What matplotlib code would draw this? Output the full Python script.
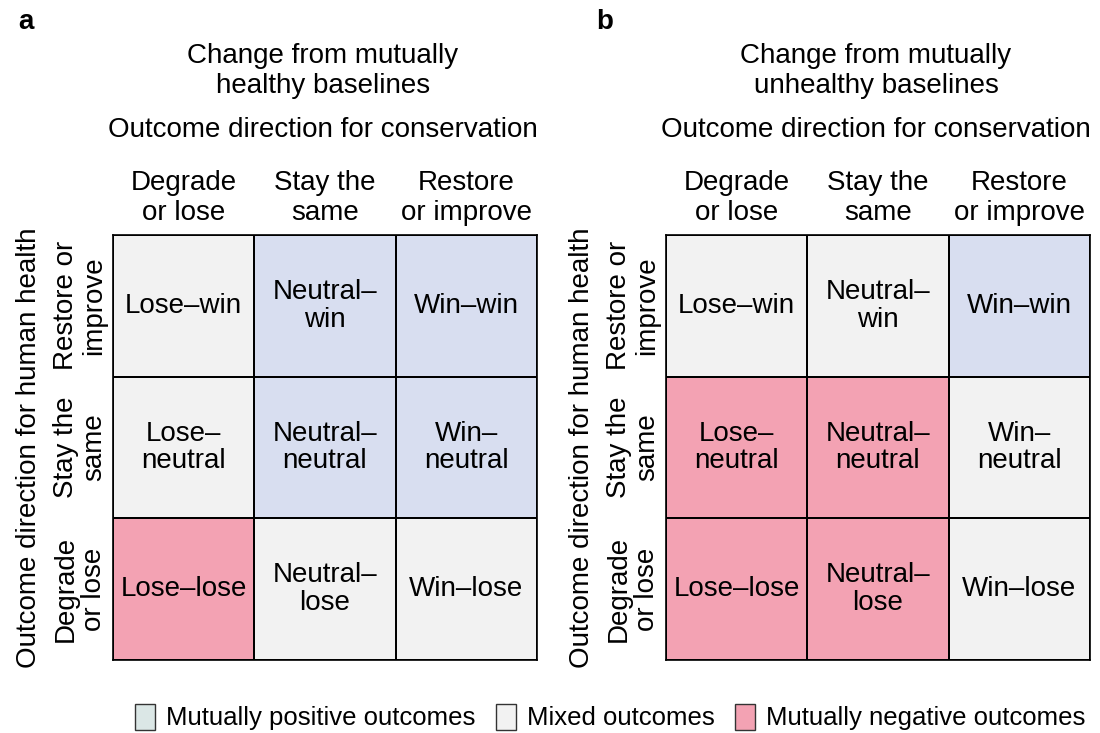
import matplotlib
matplotlib.use("Agg")
import matplotlib.pyplot as plt
import numpy as np
from matplotlib.colors import ListedColormap
from matplotlib.patches import Patch

plt.rcParams['font.family'] = ['Liberation Sans', 'DejaVu Sans']

# ---- data ----
conservation_dirs = ["Degrade\nor lose", "Stay the\nsame", "Restore\nor improve"]
health_dirs = ["Restore or\nimprove", "Stay the\nsame", "Degrade\nor lose"]  # top to bottom
cell_labels = [
    ["Lose\u2013win", "Neutral\u2013\nwin", "Win\u2013win"],
    ["Lose\u2013\nneutral", "Neutral\u2013\nneutral", "Win\u2013\nneutral"],
    ["Lose\u2013lose", "Neutral\u2013\nlose", "Win\u2013lose"],
]
# 0 = mutually positive, 1 = mixed, 2 = mutually negative (rows top to bottom)
class_a = [[1, 0, 0],
           [1, 0, 0],
           [2, 1, 1]]
class_b = [[1, 1, 0],
           [2, 2, 1],
           [2, 2, 1]]
panel_titles = ["Change from mutually\nhealthy baselines",
                "Change from mutually\nunhealthy baselines"]
panel_letters = ["a", "b"]
legend_labels = ["Mutually positive outcomes", "Mixed outcomes", "Mutually negative outcomes"]

cell_colors = ["#d8def0", "#f2f2f2", "#f3a2b3"]
legend_colors = ["#dbe7e6", "#f2f2f2", "#f3a2b3"]

W, H = 1100, 733
fig = plt.figure(figsize=(W / 100, H / 100), dpi=100)

def fx(px):
    return px / W

def fy(py):
    return 1 - py / H

cmap = ListedColormap(cell_colors)
fs = 20
ls = 1.08
ls_head = 1.17

for k, (classes, left, letter_x) in enumerate([(class_a, 113, 18), (class_b, 666, 596)]):
    gl, gr, gt, gb = left, left + 424, 235, 660
    ax = fig.add_axes([fx(gl), fy(gb), fx(gr - gl), (gb - gt) / H])
    data = np.array(classes)
    ax.pcolormesh(np.arange(4), np.arange(4), data, cmap=cmap, vmin=-0.5, vmax=2.5,
                  edgecolors="black", linewidth=1.2)
    ax.set_xlim(0, 3)
    ax.set_ylim(3, 0)
    ax.set_xticks([])
    ax.set_yticks([])
    for s in ax.spines.values():
        s.set_linewidth(1.2)
    for i in range(3):
        for j in range(3):
            ax.text(j + 0.5, i + 0.5, cell_labels[i][j], ha="center", va="center",
                    fontsize=fs, linespacing=ls)
    cw = (gr - gl) / 3
    # column headers
    for j, lab in enumerate(conservation_dirs):
        fig.text(fx(gl + cw * (j + 0.5)), fy(198), lab, ha="center", va="center",
                 fontsize=fs, linespacing=ls_head)
    # row headers
    ch = (gb - gt) / 3
    for i, lab in enumerate(health_dirs):
        fig.text(fx(gl - 33), fy(gt + ch * (i + 0.5)), lab, ha="center", va="center",
                 rotation=90, fontsize=fs, linespacing=ls)
    fig.text(fx(gl - 84), fy((gt + gb) / 2), "Outcome direction for human health",
             ha="center", va="center", rotation=90, fontsize=fs)
    fig.text(fx((gl + gr) / 2 - 2), fy(130), "Outcome direction for conservation",
             ha="center", va="center", fontsize=fs)
    fig.text(fx((gl + gr) / 2 - 2), fy(71), panel_titles[k], ha="center", va="center",
             fontsize=fs, linespacing=ls_head)
    fig.text(fx(letter_x), fy(22), panel_letters[k], ha="left", va="center",
             fontsize=fs, fontweight="bold")

handles = [Patch(facecolor=c, edgecolor="#333333", linewidth=1.0) for c in legend_colors]
fig.legend(handles, legend_labels, loc="center", bbox_to_anchor=(fx(610), fy(717)),
           ncol=3, frameon=False, fontsize=18.5, handlelength=0.8, handleheight=1.2,
           handletextpad=0.4, columnspacing=0.8, borderpad=0)

fig.savefig("out.png", dpi=100, facecolor="white")
